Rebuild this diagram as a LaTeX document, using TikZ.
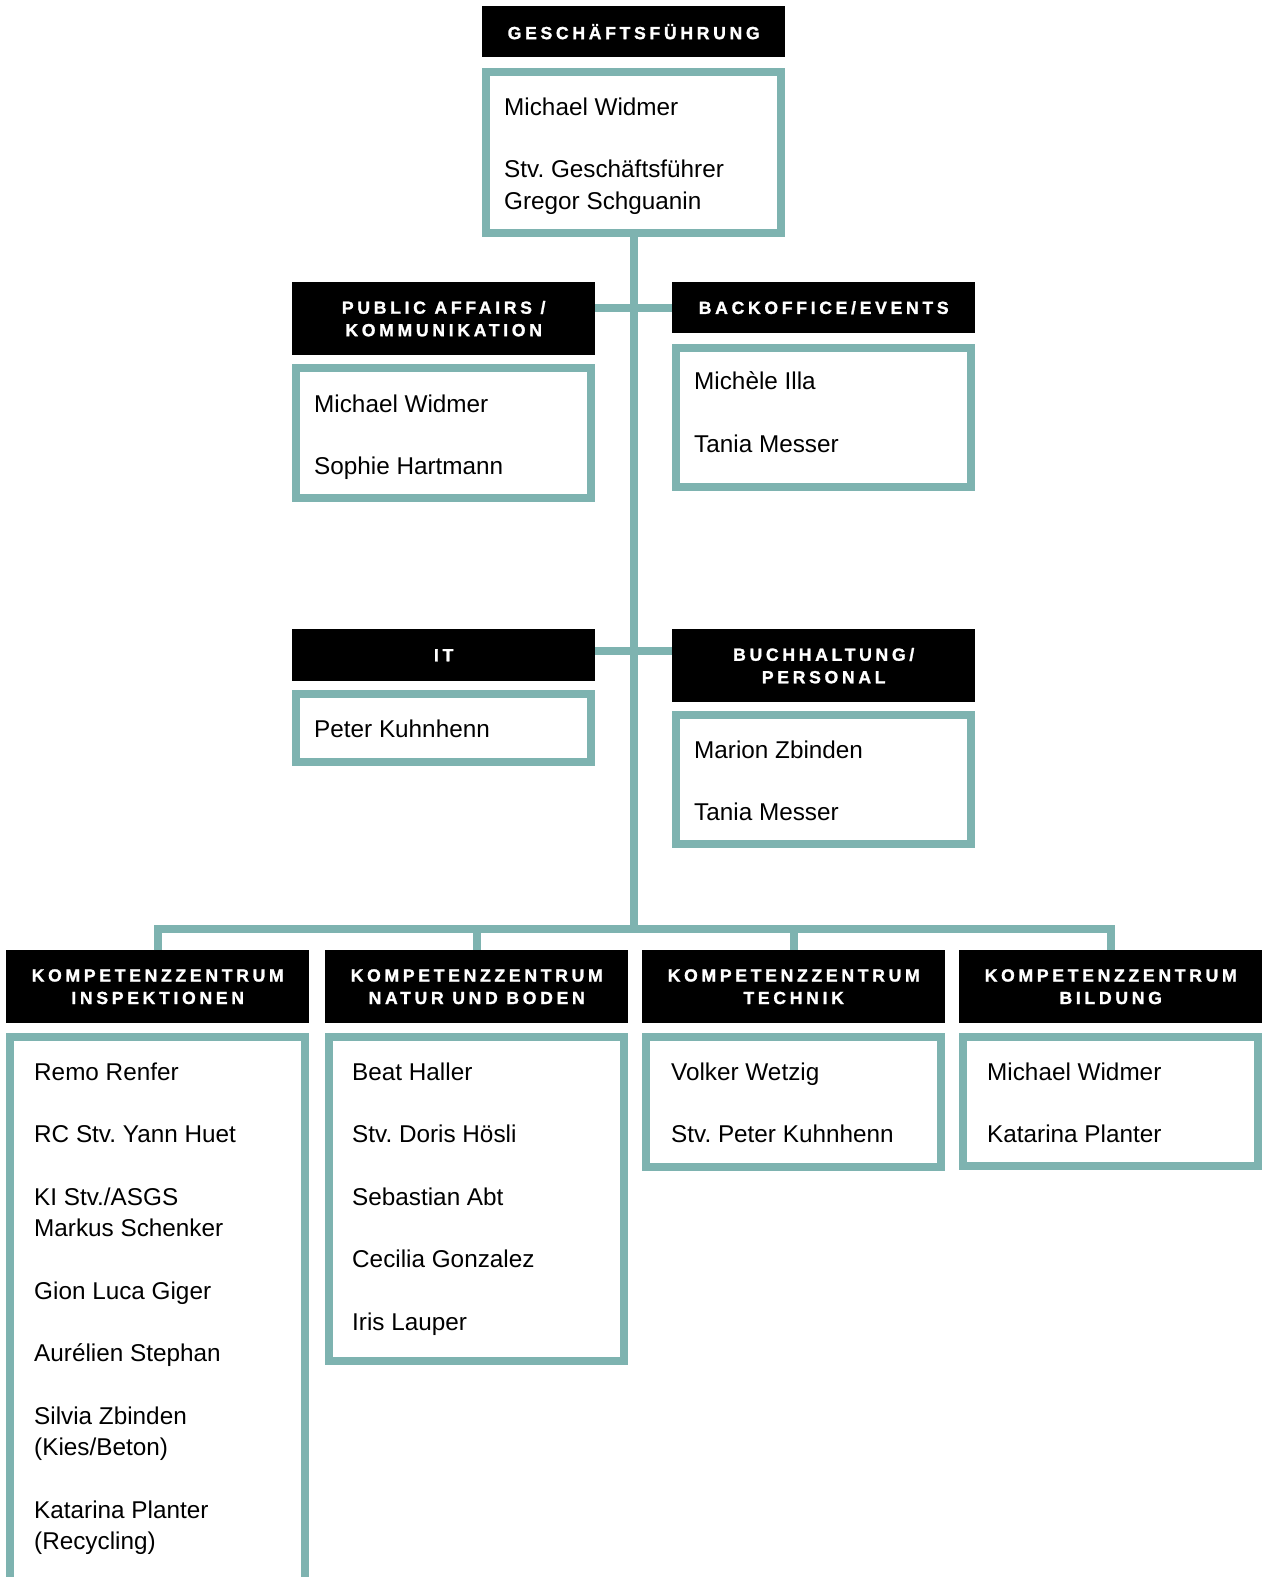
\documentclass[tikz,border=0pt]{standalone}
\usepackage{fontspec}
\setmainfont{Liberation Sans}
\newfontfamily\hdfont{Liberation Sans Bold}[LetterSpace=21,FakeBold=1.4]
\definecolor{tealc}{RGB}{126,179,176}
\frenchspacing
\tikzset{
  hdr/.style={fill=black, text=white, font=\hdfont\fontsize{17.6}{22.5}\selectfont,
    align=center, inner sep=0pt, anchor=north west, minimum width=303pt},
  pbox/.style={draw=tealc, line width=8pt, fill=white, inner sep=0pt, anchor=north west, minimum width=295pt},
  txt/.style={font=\fontsize{24.3}{31.3}\selectfont\frenchspacing, align=left, inner sep=0pt, anchor=base west},
  conn/.style={draw=tealc, line width=8pt}
}
\begin{document}
\begin{tikzpicture}[x=1pt,y=-1pt]
\path[use as bounding box] (0,0) rectangle (1267,1577);
\clip (0,0) rectangle (1267,1577);
\fill[white] (0,0) rectangle (1267,1577);

% headers
\node[hdr, minimum height=51pt] (gfh) at (482,6) {GESCHÄFTSFÜHRUNG};
\node[hdr, minimum height=73pt] (pah) at (292,282) {PUBLIC AFFAIRS /\\KOMMUNIKATION};
\node[hdr, minimum height=51pt] (boh) at (672,282) {BACKOFFICE/EVENTS};
\node[hdr, minimum height=52pt] (ith) at (292,629) {IT};
\node[hdr, minimum height=73pt] (buh) at (672,629) {BUCHHALTUNG/\\PERSONAL};
\node[hdr, minimum height=73pt] (k1h) at (6,950) {KOMPETENZZENTRUM\\INSPEKTIONEN};
\node[hdr, minimum height=73pt] (k2h) at (325,950) {KOMPETENZZENTRUM\\NATUR UND BODEN};
\node[hdr, minimum height=73pt] (k3h) at (642,950) {KOMPETENZZENTRUM\\TECHNIK};
\node[hdr, minimum height=73pt] (k4h) at (959,950) {KOMPETENZZENTRUM\\BILDUNG};

% boxes (anchored at the outer corner of their border)
\node[pbox, minimum height=161pt] (gfb) at (482,68) {};
\node[pbox, minimum height=130pt] (pab) at (292,364) {};
\node[pbox, minimum height=139pt] (bob) at (672,344) {};
\node[pbox, minimum height=68pt] (itb) at (292,690) {};
\node[pbox, minimum height=129pt] (bub) at (672,711) {};
\node[pbox, minimum height=544pt] (k1b) at (6,1033) {};
\node[pbox, minimum height=324pt] (k2b) at (325,1033) {};
\node[pbox, minimum height=130pt] (k3b) at (642,1033) {};
\node[pbox, minimum height=129pt] (k4b) at (959,1033) {};

% texts (anchored at the baseline of their last line)
\node[txt] (gft) at (504,209) {Michael Widmer\\[31.3pt]Stv. Geschäftsführer\\Gregor Schguanin};
\node[txt] (pat) at (314,474.6) {Michael Widmer\\[31.3pt]Sophie Hartmann};
\node[txt] (bot) at (694,452) {Michèle Illa\\[31.3pt]Tania Messer};
\node[txt] (itt) at (314,737) {Peter Kuhnhenn};
\node[txt] (but) at (694,820.6) {Marion Zbinden\\[31.3pt]Tania Messer};
\node[txt] (k1t) at (34,1549.5) {Remo Renfer\\[31.3pt]RC Stv. Yann Huet\\[31.3pt]KI Stv./ASGS\\Markus Schenker\\[31.3pt]Gion Luca Giger\\[31.3pt]Aurélien Stephan\\[31.3pt]Silvia Zbinden\\(Kies/Beton)\\[31.3pt]Katarina Planter\\(Recycling)};
\node[txt] (k2t) at (352,1330.4) {Beat Haller\\[31.3pt]Stv. Doris Hösli\\[31.3pt]Sebastian Abt\\[31.3pt]Cecilia Gonzalez\\[31.3pt]Iris Lauper};
\node[txt] (k3t) at (671,1142.6) {Volker Wetzig\\[31.3pt]Stv. Peter Kuhnhenn};
\node[txt] (k4t) at (987,1142.6) {Michael Widmer\\[31.3pt]Katarina Planter};

% connectors
\coordinate (bus) at (634,929);
\coordinate (r2) at (634,651);
\draw[conn] (gfb.south) -- (gfb.south |- bus);
\draw[conn] (pah.east |- boh.west) -- (boh.west);
\draw[conn] (ith.east |- r2) -- (buh.west |- r2);
\draw[conn] (k1h.north) -- (k1h.north |- bus) -- (k4h.north |- bus) -- (k4h.north);
\draw[conn] (k2h.north |- bus) -- (k2h.north);
\draw[conn] (k3h.north |- bus) -- (k3h.north);
\end{tikzpicture}
\end{document}
